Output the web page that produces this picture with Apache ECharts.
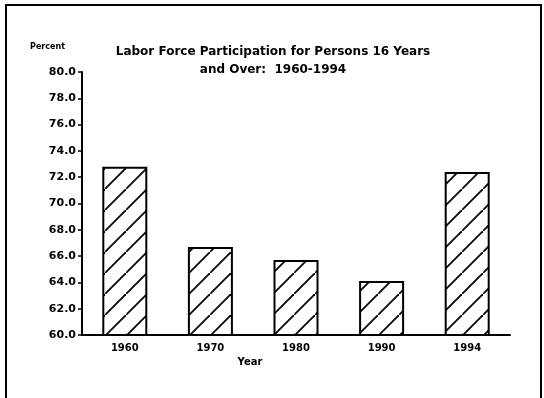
<!DOCTYPE html>
<html>
<head>
<meta charset="utf-8">
<script src="https://cdn.jsdelivr.net/npm/echarts@6/dist/echarts.min.js"></script>
<style>
html,body{margin:0;padding:0;background:#fff;}
#chart{width:544px;height:398px;}
</style>
</head>
<body>
<div id="chart"></div>
<script>
const categories = ["1960", "1970", "1980", "1990", "1994"];
const values = [72.8, 66.7, 65.7, 64.1, 72.4];
const yTicks = { min: 60, max: 80, interval: 2 };
const titleText = "Labor Force Participation for Persons 16 Years\nand Over:  1960-1994";

// hatch pattern
const tile = document.createElement('canvas');
tile.width = 21; tile.height = 21;
const g = tile.getContext('2d');
g.fillStyle = '#fff'; g.fillRect(0, 0, 21, 21);
g.strokeStyle = '#000'; g.lineWidth = 1.8;
g.beginPath();
g.moveTo(-3, 24); g.lineTo(24, -3);
g.stroke();

const FONT = 'DejaVu Sans';
const chart = echarts.init(document.getElementById('chart'), null, { renderer: 'canvas' });
chart.setOption({
  backgroundColor: '#fff',
  animation: false,
  title: {
    text: titleText,
    left: 268, top: 38, textAlign: 'center',
    textStyle: { fontFamily: FONT, fontWeight: 'bold', fontSize: 12, color: '#000', lineHeight: 18 }
  },
  graphic: [{
    type: 'rect', shape: { x: 6, y: 5, width: 535, height: 400 },
    style: { fill: 'none', stroke: '#000', lineWidth: 2 }, silent: true
  }],
  grid: { left: 82, right: 34, top: 72, bottom: 63 },
  xAxis: {
    type: 'category', data: categories,
    name: 'Year', nameLocation: 'middle', nameGap: 21,
    nameTextStyle: { fontFamily: FONT, fontWeight: 'bold', fontSize: 10, color: '#000', padding: [0, 92, 0, 0] },
    axisLine: { lineStyle: { color: '#000', width: 2 } },
    axisTick: { alignWithLabel: true, length: 4, lineStyle: { color: '#000', width: 1.5 } },
    axisLabel: { fontFamily: FONT, fontWeight: 'bold', fontSize: 10, color: '#000', margin: 8 },
    splitLine: { show: false }
  },
  yAxis: {
    type: 'value', min: yTicks.min, max: yTicks.max, interval: yTicks.interval,
    name: 'Percent', nameLocation: 'end', nameGap: 25,
    nameTextStyle: { fontFamily: FONT, fontWeight: 'bold', fontSize: 8, color: '#000', align: 'right', verticalAlign: 'middle', padding: [0, 17, 0, 0] },
    axisLine: { show: true, lineStyle: { color: '#000', width: 2 } },
    axisTick: { show: true, length: 4, lineStyle: { color: '#000', width: 1.5 } },
    axisLabel: { fontFamily: FONT, fontWeight: 'bold', fontSize: 11, color: '#000', margin: 6, formatter: v => v.toFixed(1) },
    splitLine: { show: false }
  },
  series: [{
    type: 'bar', data: values, barWidth: 45,
    itemStyle: { color: { image: tile, repeat: 'repeat' }, borderColor: '#000', borderWidth: 2 }
  }]
});
</script>
</body>
</html>
